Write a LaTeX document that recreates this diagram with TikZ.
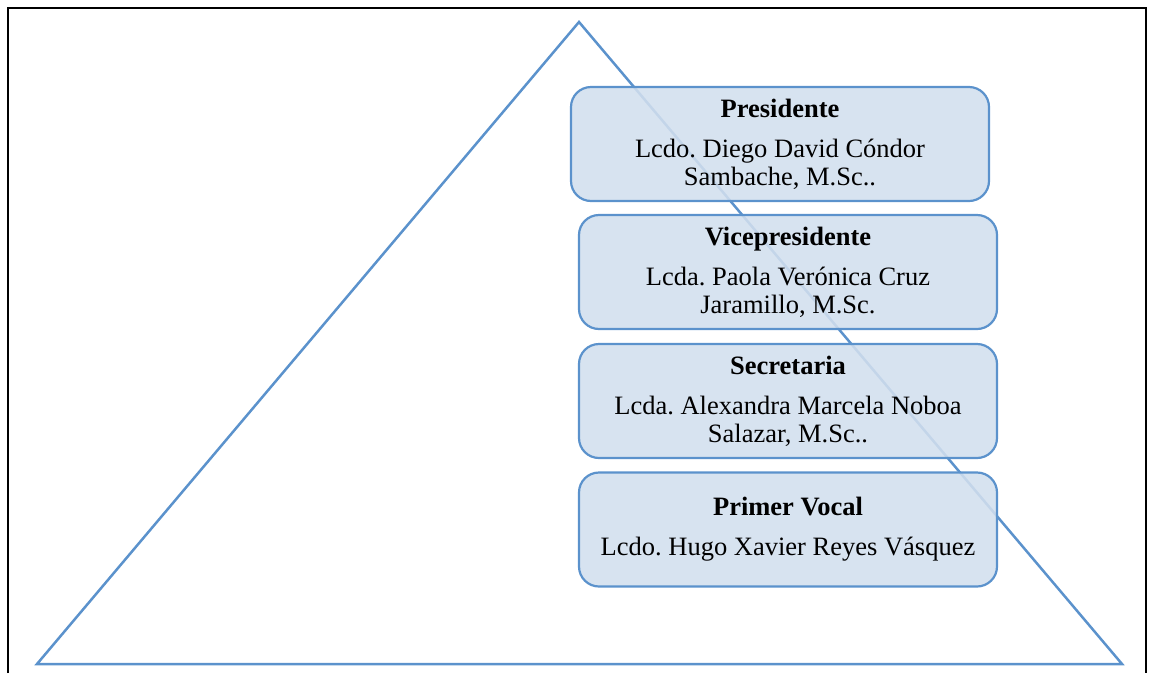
\documentclass[tikz,border=0pt]{standalone}
\usepackage{fontspec}
\setmainfont{Liberation Serif}
\usetikzlibrary{positioning}
\definecolor{lineblue}{HTML}{5B92CC}
\definecolor{boxfill}{HTML}{D2DFEE}
\tikzset{
  member/.style={draw=lineblue, line width=2.2pt, fill=boxfill, fill opacity=0.88, text opacity=1,
    rounded corners=20pt, minimum width=418pt, minimum height=114pt, align=center,
    font=\fontsize{26.5}{28}\selectfont\frenchspacing},
  pyramid/.style={draw=lineblue, line width=2.5pt}
}

\begin{document}
\begin{tikzpicture}[x=1pt, y=-1pt]
\useasboundingbox (0,0) rectangle (1152,673);
% frame
\draw[line width=1.5pt] (8,673) -- (8,8) -- (1146,8) -- (1146,673);

% pyramid
\coordinate (apex) at (579,22);
\coordinate (baseL) at (37,664);
\coordinate (baseR) at (1122,664);
\draw[pyramid] (baseL) -- (apex) -- (baseR) -- cycle;

% members
\node[member] (pres) at (780,144) {\textbf{Presidente}\\[12pt] Lcdo. Diego David Cóndor\\ Sambache, M.Sc..};
\node[member] (vice) at (788,272) {\textbf{Vicepresidente}\\[12pt] Lcda. Paola Verónica Cruz\\ Jaramillo, M.Sc.};
\node[member] (secr) at (788,401) {\textbf{Secretaria}\\[12pt] Lcda. Alexandra Marcela Noboa\\ Salazar, M.Sc..};
\node[member] (vocal) at (788,529.5) {\textbf{Primer Vocal}\\[12pt] Lcdo. Hugo Xavier Reyes Vásquez};
\end{tikzpicture}
\end{document}
